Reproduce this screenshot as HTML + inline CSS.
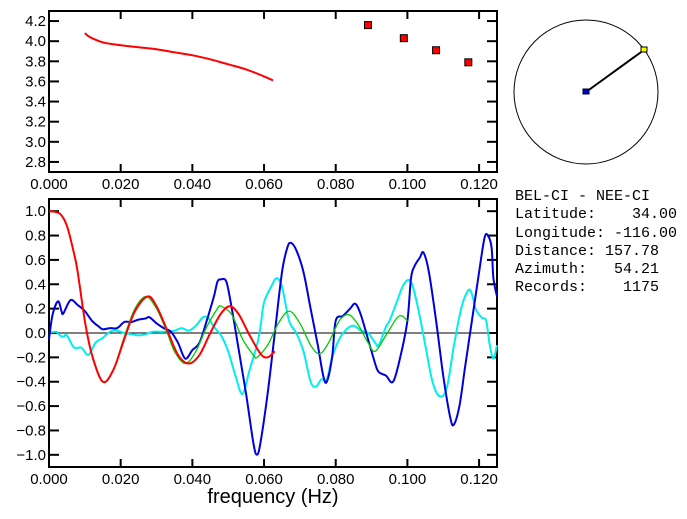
<!DOCTYPE html>
<html><head><meta charset="utf-8">
<style>
html,body{margin:0;padding:0;background:#fff;}
svg{display:block;}
text{font-family:"Liberation Sans",sans-serif;}
.mono{font-family:"Liberation Mono",monospace;font-size:15px;white-space:pre;}
</style></head>
<body>
<svg id="chart" width="687" height="519" viewBox="0 0 687 519" xmlns="http://www.w3.org/2000/svg">
<g id="topPanel"></g>
<g id="botPanel"></g>
<g>
<circle cx="586" cy="92" r="72" fill="none" stroke="#000" stroke-width="1"/>
<line x1="586" y1="92" x2="644" y2="50" stroke="#000" stroke-width="2"/>
<rect x="583" y="89" width="6" height="5" fill="#0000dd" stroke="#000" stroke-width="1"/>
<rect x="641" y="47" width="6" height="5" fill="#ffff00" stroke="#000" stroke-width="1"/>
</g>
<g>
<text class="mono" x="515" y="200">BEL-CI - NEE-CI</text>
<text class="mono" x="515" y="218">Latitude:    34.00</text>
<text class="mono" x="515" y="237">Longitude: -116.00</text>
<text class="mono" x="515" y="255">Distance: 157.78</text>
<text class="mono" x="515" y="273">Azimuth:   54.21</text>
<text class="mono" x="515" y="291">Records:    1175</text>
</g>
<text x="273" y="503" text-anchor="middle" font-size="20">frequency (Hz)</text>
</svg>
<script>
const xTicks = [0,0.02,0.04,0.06,0.08,0.10,0.12];
const xTickLabels = ["0.000","0.020","0.040","0.060","0.080","0.100","0.120"];
const topYTicks = [2.8,3.0,3.2,3.4,3.6,3.8,4.0,4.2];
const botYTicks = [-1.0,-0.8,-0.6,-0.4,-0.2,0,0.2,0.4,0.6,0.8,1.0];
const topLineF = [0.010,0.011,0.012,0.014,0.016,0.020,0.025,0.030,0.035,0.040,0.045,0.050,0.055,0.060,0.0625];
const topLineV = [4.08,4.05,4.03,4.00,3.98,3.96,3.94,3.92,3.89,3.86,3.82,3.77,3.72,3.65,3.61];
const sqF = [0.089,0.099,0.108,0.117];
const sqV = [4.16,4.03,3.91,3.79];
const redF = [0,0.003,0.005,0.007,0.008,0.010,0.012,0.015,0.018,0.021,0.024,0.0275,0.030,0.033,0.036,0.039,0.042,0.045,0.048,0.0505,0.053,0.056,0.059,0.061,0.063];
const redV = [1.0,0.98,0.88,0.65,0.5,0.1,-0.18,-0.4,-0.3,-0.05,0.18,0.3,0.22,0.02,-0.18,-0.25,-0.18,0,0.16,0.22,0.15,-0.02,-0.17,-0.2,-0.15];
const greenF = [0.012,0.015,0.018,0.021,0.024,0.027,0.030,0.033,0.035,0.038,0.041,0.044,0.047,0.048,0.051,0.054,0.057,0.058,0.061,0.064,0.067,0.070,0.073,0.0755,0.078,0.081,0.0835,0.086,0.089,0.091,0.094,0.097,0.0985,0.100];
const greenV = [-0.2,-0.4,-0.3,-0.03,0.2,0.3,0.2,0,-0.15,-0.25,-0.15,0.05,0.2,0.22,0.15,-0.05,-0.18,-0.2,-0.1,0.08,0.18,0.08,-0.1,-0.17,-0.08,0.1,0.15,0.08,-0.08,-0.15,-0.02,0.12,0.14,0.1];
const blueF = [0,0.001,0.0025,0.0035,0.004,0.006,0.008,0.010,0.012,0.014,0.015,0.017,0.019,0.021,0.023,0.025,0.027,0.028,0.030,0.032,0.034,0.036,0.038,0.040,0.042,0.044,0.046,0.047,0.048,0.0495,0.051,0.053,0.055,0.057,0.058,0.059,0.061,0.063,0.065,0.0665,0.0675,0.069,0.071,0.073,0.075,0.0765,0.0775,0.079,0.080,0.082,0.084,0.0855,0.087,0.089,0.091,0.092,0.094,0.096,0.098,0.100,0.101,0.102,0.1035,0.1045,0.106,0.108,0.110,0.112,0.113,0.1145,0.116,0.118,0.120,0.1215,0.1225,0.1235,0.124,0.125];
const blueV = [-0.05,0.15,0.26,0.18,0.16,0.27,0.23,0.18,0.1,0.05,0.03,0.04,0.04,0.09,0.09,0.11,0.12,0.13,0.08,0.04,0.01,-0.08,-0.21,-0.14,-0.08,0.1,0.3,0.42,0.44,0.42,0.2,-0.15,-0.5,-0.9,-1.0,-0.9,-0.5,0.0,0.5,0.7,0.74,0.68,0.5,0.2,-0.1,-0.35,-0.4,-0.2,0.1,0.14,0.2,0.24,0.15,-0.05,-0.25,-0.32,-0.35,-0.4,-0.2,0.1,0.45,0.55,0.62,0.66,0.5,0.1,-0.35,-0.7,-0.75,-0.6,-0.3,0.1,0.5,0.78,0.8,0.7,0.45,0.3];
const cyanF = [0,0.002,0.003,0.004,0.005,0.007,0.009,0.011,0.013,0.015,0.017,0.019,0.021,0.023,0.025,0.027,0.029,0.032,0.035,0.037,0.039,0.041,0.043,0.0445,0.046,0.048,0.050,0.052,0.054,0.056,0.058,0.059,0.060,0.062,0.0635,0.065,0.067,0.069,0.071,0.073,0.0745,0.076,0.0775,0.079,0.081,0.083,0.085,0.087,0.089,0.091,0.092,0.094,0.095,0.097,0.099,0.101,0.103,0.105,0.107,0.109,0.111,0.113,0.115,0.117,0.118,0.119,0.120,0.121,0.122,0.123,0.124,0.125];
const cyanV = [0,0.01,-0.02,-0.03,-0.02,-0.12,-0.12,-0.18,-0.08,-0.04,0.01,0.02,0,-0.01,-0.02,-0.01,0.01,0.01,0.02,0.04,0.02,0.06,0.13,0.12,0.05,-0.02,-0.15,-0.35,-0.5,-0.3,-0.1,0.05,0.25,0.38,0.45,0.38,0.1,0,-0.15,-0.4,-0.44,-0.38,-0.38,-0.2,-0.05,0.03,0.06,0.02,0,-0.08,-0.1,0.05,0.1,0.25,0.4,0.42,0.2,-0.1,-0.4,-0.52,-0.45,-0.1,0.2,0.35,0.32,0.2,0.15,0.12,0.1,-0.1,-0.21,-0.1];

const NS="http://www.w3.org/2000/svg";
const L=49, R=497;
const xs = f => L + f/0.125*(R-L);
const topY = v => 172 - (v-2.7)/1.6*(172-11);
const botY = v => 467 - (v+1.1)/2.2*(467-199);
function mk(tag, attrs, parent){const e=document.createElementNS(NS,tag);for(const k in attrs)e.setAttribute(k,attrs[k]);parent.appendChild(e);return e;}

function panel(g, T, B, yTicks, ys, fmt, prefix){
  const box = mk('rect',{x:L,y:T,width:R-L,height:B-T,fill:'none',stroke:'#000','stroke-width':2},g);
  
  
  xTicks.forEach((t,i)=>{
    const x=xs(t);
    mk('line',{x1:x,y1:B,x2:x,y2:B-8,stroke:'#000','stroke-width':2},g);
    mk('line',{x1:x,y1:T,x2:x,y2:T+8,stroke:'#000','stroke-width':2},g);
    const tx=mk('text',{x:x,y:B+17,'text-anchor':'middle','font-size':15},g);
    tx.textContent=xTickLabels[i];
    
    
  });
  yTicks.forEach(t=>{
    const y=ys(t);
    mk('line',{x1:L,y1:y,x2:L+10,y2:y,stroke:'#000','stroke-width':2},g);
    mk('line',{x1:R,y1:y,x2:R-10,y2:y,stroke:'#000','stroke-width':2},g);
    const tx=mk('text',{x:L-3,y:y+5,'text-anchor':'end','font-size':15},g);
    tx.textContent=fmt(t);
    
    
  });
}
function drawLine(g, F, V, ys, color, w, name){
  const P=F.map((f,i)=>[xs(f),ys(V[i])]);
  let d='M'+P[0][0].toFixed(1)+','+P[0][1].toFixed(1);
  for(let i=0;i<P.length-1;i++){
    const p0=P[i-1]||P[i], p1=P[i], p2=P[i+1], p3=P[i+2]||p2;
    const c1=[p1[0]+(p2[0]-p0[0])/6, p1[1]+(p2[1]-p0[1])/6];
    const c2=[p2[0]-(p3[0]-p1[0])/6, p2[1]-(p3[1]-p1[1])/6];
    d+='C'+c1[0].toFixed(1)+','+c1[1].toFixed(1)+' '+c2[0].toFixed(1)+','+c2[1].toFixed(1)+' '+p2[0].toFixed(1)+','+p2[1].toFixed(1);
  }
  const p=mk('path',{d:d,fill:'none',stroke:color,'stroke-width':w,'stroke-linejoin':'round'},g);
  
  
}
const topG=document.getElementById('topPanel'), botG=document.getElementById('botPanel');
panel(topG,11,172,topYTicks,topY,t=>t.toFixed(1),'top');
drawLine(topG,topLineF,topLineV,topY,'#ff0000',2,'velocity-curve');
sqF.forEach((f,i)=>{
  const r=mk('rect',{x:xs(f)-3.5,y:topY(sqV[i])-3.5,width:7,height:7,fill:'#ff0000',stroke:'#000','stroke-width':1},topG);
  
  
});
panel(botG,199,467,botYTicks,botY,t=>(t<0?'\u2212':'')+Math.abs(t).toFixed(1),'bottom');
const z=mk('line',{x1:L,y1:botY(0),x2:R,y2:botY(0),stroke:'#000','stroke-width':1},botG);


drawLine(botG,cyanF,cyanV,botY,'#00eeee',2,'cyan-series');
drawLine(botG,blueF,blueV,botY,'#0000dd',2,'blue-series');
drawLine(botG,greenF,greenV,botY,'#00cc00',1.3,'green-series');
drawLine(botG,redF,redV,botY,'#ff0000',2,'red-series');
</script>
</body></html>
